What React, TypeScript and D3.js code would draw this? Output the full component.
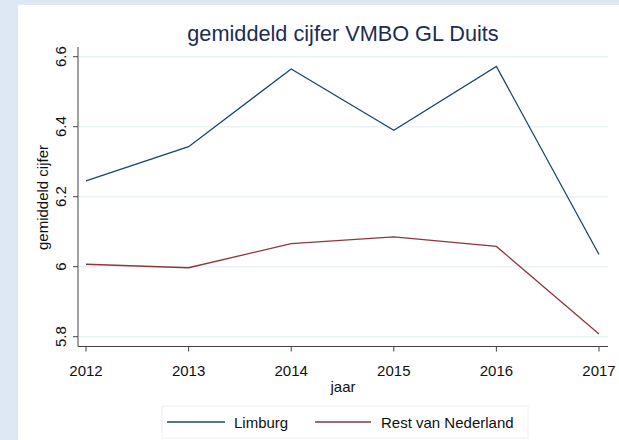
import React from "react";
import * as d3 from "d3";

const years = [2012, 2013, 2014, 2015, 2016, 2017];
const limburg = [6.245, 6.343, 6.565, 6.39, 6.572, 6.035];
const restNL = [6.007, 5.997, 6.066, 6.085, 6.058, 5.808];
const yTicks = [5.8, 6, 6.2, 6.4, 6.6];

const W = 619;
const H = 440;
const FONT = "'Liberation Sans', Arial, sans-serif";
const NAVY = "#1a476f";
const MAROON = "#90353b";
const FS = 15;

export default function App() {
  const x = d3.scaleLinear().domain([2012, 2017]).range([86, 599]);
  const y = d3.scaleLinear().domain([5.8, 6.6]).range([336.7, 56.7]);

  const line = d3
    .line<number>()
    .x((_, i) => x(years[i]))
    .y((d) => y(d));

  const axisX = 78;
  const axisY = 346.5;

  return (
    <svg
      width={W}
      height={H}
      style={{ position: "absolute", left: 0, top: 0, fontFamily: FONT }}
    >
      {/* page background and white panel */}
      <rect x={0} y={0} width={W} height={H} fill="#dee8f4" />
      <rect x={18} y={5} width={W - 18} height={H - 5} fill="#ffffff" />

      {/* title */}
      <text x={343} y={41} textAnchor="middle" fontSize={21.7} fill="#1c2c55">
        gemiddeld cijfer VMBO GL Duits
      </text>

      {/* grid */}
      {yTicks.map((t) => (
        <line
          key={"g" + t}
          x1={axisX + 1}
          x2={608}
          y1={y(t)}
          y2={y(t)}
          stroke="#eaf2f3"
          strokeWidth={1.5}
        />
      ))}

      {/* y axis */}
      <line x1={axisX} x2={axisX} y1={47} y2={axisY} stroke="#444" strokeWidth={1} />
      {yTicks.map((t) => (
        <g key={"y" + t}>
          <line x1={axisX - 5} x2={axisX} y1={y(t)} y2={y(t)} stroke="#444" />
          <text
            transform={`translate(${66},${y(t)}) rotate(-90)`}
            textAnchor="middle"
            fontSize={FS}
            fill="#111"
          >
            {d3.format("")(t)}
          </text>
        </g>
      ))}
      <text
        transform={`translate(${48},${197.5}) rotate(-90)`}
        textAnchor="middle"
        fontSize={FS}
        fill="#111"
      >
        gemiddeld cijfer
      </text>

      {/* x axis */}
      <line x1={axisX} x2={608} y1={axisY} y2={axisY} stroke="#444" strokeWidth={1} />
      {years.map((yr) => (
        <g key={"x" + yr}>
          <line x1={x(yr)} x2={x(yr)} y1={axisY} y2={axisY + 5} stroke="#444" />
          <text x={x(yr)} y={375.5} textAnchor="middle" fontSize={FS} fill="#111">
            {yr}
          </text>
        </g>
      ))}
      <text x={343} y={392} textAnchor="middle" fontSize={FS} fill="#111">
        jaar
      </text>

      {/* series */}
      <path d={line(limburg) ?? ""} fill="none" stroke={NAVY} strokeWidth={1.3} />
      <path d={line(restNL) ?? ""} fill="none" stroke={MAROON} strokeWidth={1.3} />

      {/* legend */}
      <rect x={162} y={406} width={366} height={32} fill="#fff" stroke="#eaf2f3" strokeWidth={1} />
      <line x1={167} x2={225} y1={422} y2={422} stroke={NAVY} strokeWidth={1.5} />
      <text x={234} y={427.5} fontSize={FS} fill="#111">
        Limburg
      </text>
      <line x1={315} x2={371} y1={422} y2={422} stroke={MAROON} strokeWidth={1.5} />
      <text x={381} y={427.5} fontSize={FS} fill="#111">
        Rest van Nederland
      </text>
    </svg>
  );
}
